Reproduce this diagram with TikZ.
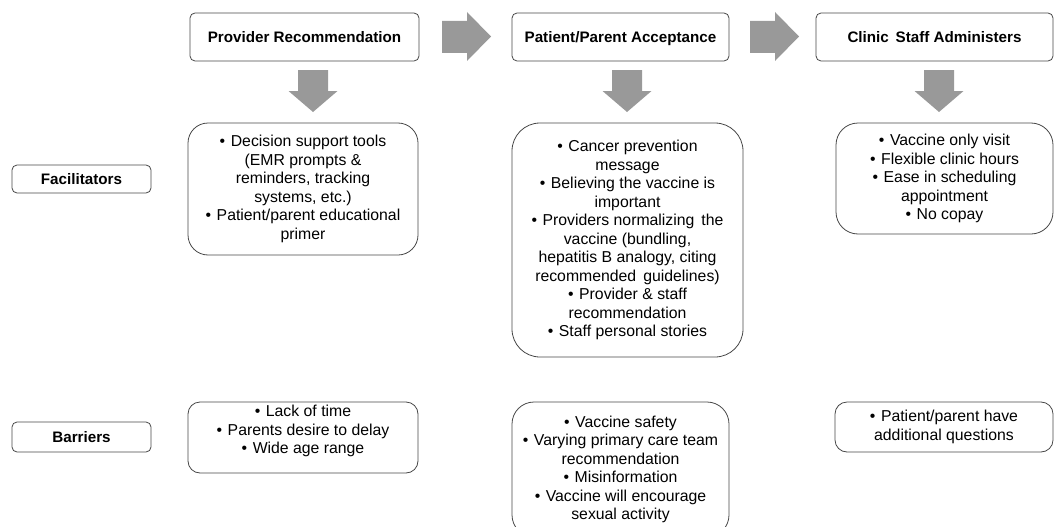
\documentclass[tikz,border=0pt]{standalone}
\usepackage{fontspec}
\setmainfont{Liberation Sans}
\newcommand{\bul}{•\hspace{0.35em}}
\begin{document}
\begin{tikzpicture}[x=1pt,y=-1pt,
  box/.style={draw=black!72, line width=0.8pt, align=center, inner sep=0pt},
  title/.style={box, rounded corners=5pt, font=\fontsize{15.2}{17}\selectfont\bfseries, text height=10.9pt, text depth=0pt},
  body/.style={box, font=\fontsize{15.8}{18.5}\selectfont},
  blockarrow/.style={fill=black!40, draw=none}]
\useasboundingbox (0,0) rectangle (1054,527);
\clip (0,0) rectangle (1054,527);
% top row
\node[title, minimum width=229pt, minimum height=48pt] (prov) at (304.5,37) {Provider Recommendation};
\node[title, minimum width=217pt, minimum height=48pt] (pat) at (620.5,37) {Patient/Parent Acceptance};
\node[title, minimum width=237pt, minimum height=48pt] (clin) at (934.5,37) {Clinic\, Staff Administers};
% row labels
\node[title, minimum width=139pt, minimum height=28pt] (fac) at (81.5,179) {Facilitators};
\node[title, minimum width=139pt, minimum height=30pt] (bar) at (81.5,437) {Barriers};
% facilitators
\node[body, rounded corners=20pt, minimum width=230pt, minimum height=132pt] (pf) at (303,189)
  {\bul Decision support tools\\(EMR prompts \&\\reminders, tracking\\systems, etc.)\\\bul Patient/parent educational\\primer};
\node[body, rounded corners=28pt, minimum width=231pt, minimum height=234pt] (af) at (627.5,240)
  {\bul Cancer prevention\\message\\\bul Believing the vaccine is\\important\\\bul Providers normalizing\, the\\vaccine (bundling,\\hepatitis B analogy, citing\\recommended\, guidelines)\\\bul Provider \& staff\\recommendation\\\bul Staff personal stories};
\node[body, rounded corners=22pt, minimum width=217pt, minimum height=111pt] (cf) at (944.5,178.5)
  {\bul Vaccine only visit\\\bul Flexible clinic hours\\\bul Ease in scheduling\\appointment\\\bul No copay};
% barriers
\node[body, rounded corners=12pt, minimum width=230pt, minimum height=71pt, text depth=16pt] (pb) at (303,437.5)
  {\bul Lack of time\\\bul Parents desire to delay\\\bul Wide age range};
\node[body, rounded corners=22pt, minimum width=217pt, minimum height=135pt] (ab) at (620.5,469.5)
  {\bul Vaccine safety\\\bul Varying primary care team\\recommendation\\\bul Misinformation\\\bul Vaccine will encourage\\sexual activity};
\node[body, rounded corners=12pt, minimum width=218pt, minimum height=50pt] (cb) at (944,427)
  {\bul Patient/parent have\\additional questions};
% block arrows right
\foreach \x in {442,750}{
  \fill[blockarrow] (\x,21) -- (\x+25,21) -- (\x+25,12) -- (\x+49,36.5) -- (\x+25,61) -- (\x+25,53) -- (\x,53) -- cycle;
}
% block arrows down
\foreach \c in {313,627,939}{
  \fill[blockarrow] (\c-15,70) -- (\c+15,70) -- (\c+15,91) -- (\c+24.5,91) -- (\c,112) -- (\c-24.5,91) -- (\c-15,91) -- cycle;
}
\end{tikzpicture}
\end{document}
